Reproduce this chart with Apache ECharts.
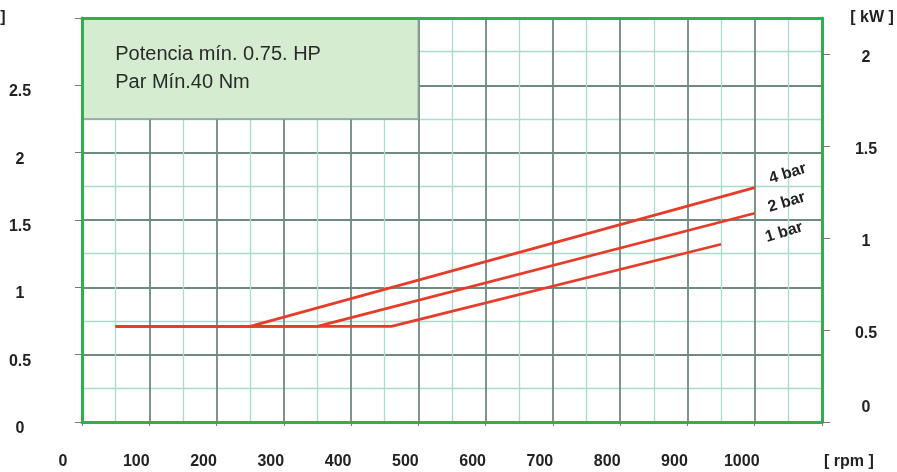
<!DOCTYPE html>
<html>
<head>
<meta charset="utf-8">
<script src="https://cdn.jsdelivr.net/npm/echarts@6/dist/echarts.min.js"></script>
<style>
html,body{margin:0;padding:0;background:#fff;}
#chart{width:897px;height:472px;}
</style>
</head>
<body>
<div id="chart"></div>
<script>
// Data (rpm on x, HP on left axis)
const seriesNames = ['4 bar', '2 bar', '1 bar'];
const rpm4 = [50, 250, 1000];
const hp4  = [0.71, 0.71, 1.74];
const rpm2 = [50, 350, 1000];
const hp2  = [0.71, 0.71, 1.55];
const rpm1 = [50, 460, 950];
const hp1  = [0.71, 0.71, 1.32];
const xTickLabels = [0, 100, 200, 300, 400, 500, 600, 700, 800, 900, 1000];
const hpTickLabels = [0, 0.5, 1, 1.5, 2, 2.5];
const kwTickLabels = [0, 0.5, 1, 1.5, 2];
const noteLines = ['Potencia mín. 0.75. HP', 'Par Mín.40 Nm'];

const GREEN = '#2fb04e';
const DARK = '#6f8b81';
const LIGHT = '#a9dcc9';
const RED = '#e63d2a';
const FONT = '"Liberation Sans", Arial, sans-serif';
const LABEL_ROT = 17;

function pairs(xs, ys) { return xs.map((x, i) => [x, ys[i]]); }
// label offset is applied in the rotated frame; convert a screen offset
function localOffset(dx, dy) {
  const t = LABEL_ROT * Math.PI / 180;
  return [dx * Math.cos(t) - dy * Math.sin(t), dx * Math.sin(t) + dy * Math.cos(t)];
}

const lineData = [pairs(rpm4, hp4), pairs(rpm2, hp2), pairs(rpm1, hp1)];
const labelShifts = [[33, -14], [32, -11], [63, -12]];

const series = lineData.map((d, i) => {
  const last = d[d.length - 1];
  const s = {
    name: seriesNames[i],
    type: 'line',
    xAxisIndex: 0,
    yAxisIndex: 0,
    data: d,
    symbol: 'none',
    lineStyle: { color: RED, width: 2.8 },
    z: 3,
    markPoint: {
      symbol: 'circle',
      symbolSize: 1,
      itemStyle: { color: 'transparent' },
      data: [{
        coord: last,
        label: {
          show: true,
          position: 'inside',
          formatter: seriesNames[i],
          offset: localOffset(labelShifts[i][0], labelShifts[i][1]),
          rotate: LABEL_ROT,
          color: '#222',
          fontFamily: FONT,
          fontWeight: 'bold',
          fontSize: 16
        }
      }]
    }
  };
  if (i === 0) {
    s.markArea = {
      silent: true,
      itemStyle: { color: '#d5ecd0', borderColor: '#8e9f96', borderWidth: 1.5 },
      label: {
        show: true,
        position: 'insideLeft',
        distance: 34,
        formatter: noteLines.join('\n'),
        fontFamily: FONT,
        fontSize: 20,
        lineHeight: 28,
        color: '#2a2a2a',
        padding: [0, 0, 5, 0]
      },
      data: [[{ coord: [0, 2.25] }, { coord: [500, 3] }]]
    };
  }
  return s;
});

const labelStyle = { color: '#222', fontFamily: FONT, fontWeight: 'bold', fontSize: 16 };

const chart = echarts.init(document.getElementById('chart'), null, { renderer: 'canvas' });
chart.setOption({
  backgroundColor: '#ffffff',
  animation: false,
  grid: { left: 82, right: 75, top: 18, bottom: 50, show: false, containLabel: false, outerBoundsMode: 'none' },
  xAxis: [
    {
      type: 'value', min: 0, max: 1100, interval: 100, z: 0,
      axisLine: { show: true, lineStyle: { color: GREEN, width: 3 } },
      axisTick: { show: true, length: 4, lineStyle: { color: '#777' } },
      axisLabel: {
        show: true, margin: 32, color: '#222', fontFamily: FONT, fontWeight: 'bold', fontSize: 16,
        hideOverlap: false,
        formatter: v => (v === 0 ? '{o|0}' : (xTickLabels.indexOf(v) >= 0 ? '{n|' + v + '}' : '')),
        rich: {
          o: Object.assign({ padding: [0, 38, 0, 0] }, labelStyle),
          n: Object.assign({ padding: [0, 26, 0, 0] }, labelStyle)
        }
      },
      splitLine: { show: true, lineStyle: { color: DARK, width: 1.8 } },
      minorTick: { show: false, splitNumber: 2 },
      minorSplitLine: { show: true, lineStyle: { color: LIGHT, width: 1.3 } },
      name: '[ rpm ]', nameLocation: 'end', nameGap: 2, nameMoveOverlap: false,
      nameTextStyle: { color: '#222', fontFamily: FONT, fontWeight: 'bold', fontSize: 16, align: 'left', verticalAlign: 'top', padding: [32, 0, 0, 0] }
    },
    {
      type: 'value', position: 'top', min: 0, max: 1100, z: 5,
      axisLine: { show: true, onZero: false, lineStyle: { color: GREEN, width: 3 } },
      axisTick: { show: false }, axisLabel: { show: false }, splitLine: { show: false }
    }
  ],
  yAxis: [
    {
      type: 'value', position: 'left', min: 0, max: 3, interval: 0.5, z: 0,
      axisLine: { show: false },
      axisTick: { show: true, inside: false, length: 7, lineStyle: { color: '#777' } },
      axisLabel: {
        show: true, align: 'center', margin: 62, color: '#222', fontFamily: FONT, fontWeight: 'bold', fontSize: 16,
        formatter: v => (hpTickLabels.indexOf(v) >= 0 ? '{d|' + v + '}' : ''),
        rich: { d: Object.assign({ padding: [13, 0, 0, 0] }, labelStyle) }
      },
      splitLine: { show: true, lineStyle: { color: DARK, width: 1.8 } },
      minorTick: { show: false, splitNumber: 2 },
      minorSplitLine: { show: true, lineStyle: { color: LIGHT, width: 1.3 } },
      name: ']', nameLocation: 'end', nameGap: 0, nameMoveOverlap: false,
      nameTextStyle: { color: '#222', fontFamily: FONT, fontWeight: 'bold', fontSize: 16, align: 'center', verticalAlign: 'middle', padding: [0, 158, 0, 0] }
    },
    {
      type: 'value', position: 'right', min: 0, max: 2.2, interval: 0.5, z: 5,
      axisLine: { show: true, onZero: false, lineStyle: { color: GREEN, width: 3 } },
      axisTick: { show: true, inside: false, length: 8, lineStyle: { color: '#777' }, customValues: kwTickLabels },
      axisLabel: {
        show: true, align: 'center', margin: 44, color: '#222', fontFamily: FONT, fontWeight: 'bold', fontSize: 16,
        formatter: v => (v === 0 ? '{z|0}' : (kwTickLabels.indexOf(v) >= 0 ? '{k|' + v + '}' : '')),
        rich: {
          z: Object.assign({ padding: [0, 0, 28, 0] }, labelStyle),
          k: Object.assign({ padding: [6, 0, 0, 0] }, labelStyle)
        }
      },
      splitLine: { show: false },
      name: '[ kW ]', nameLocation: 'end', nameGap: 0, nameMoveOverlap: false,
      nameTextStyle: { color: '#222', fontFamily: FONT, fontWeight: 'bold', fontSize: 16, align: 'center', verticalAlign: 'middle', padding: [2, 0, 0, 100] }
    },
    {
      type: 'value', position: 'left', min: 0, max: 3, z: 5,
      axisLine: { show: true, onZero: false, lineStyle: { color: GREEN, width: 3 } },
      axisTick: { show: false }, axisLabel: { show: false }, splitLine: { show: false }
    }
  ],
  series: series
});
</script>
</body>
</html>
